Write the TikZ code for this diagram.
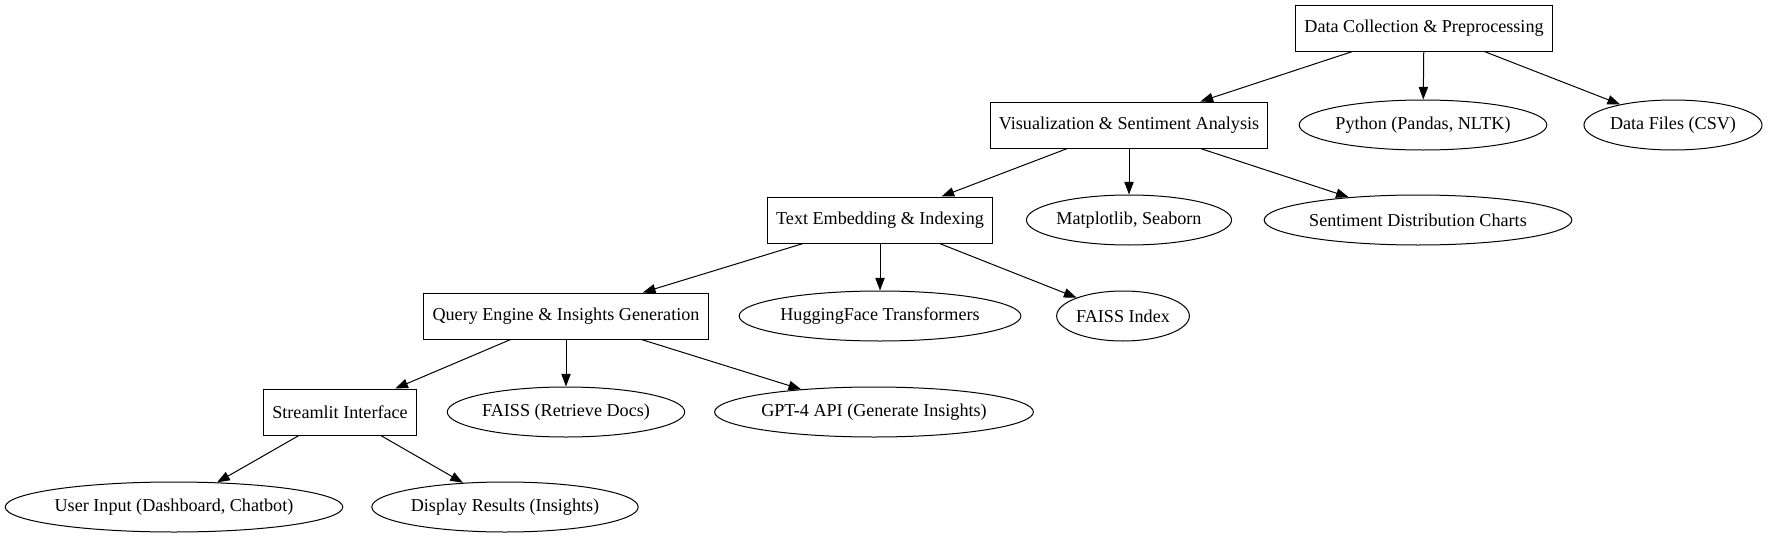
\documentclass[tikz,border=0pt]{standalone}
\usepackage{fontspec}
\setmainfont{Liberation Serif}
\usetikzlibrary{shapes.geometric,arrows.meta}

\begin{document}
\begin{tikzpicture}[x=0.75pt,y=-0.75pt,
	box/.style={draw,rectangle,line width=0.75pt,minimum height=34.5pt,inner xsep=6.5pt,font=\fontsize{13.6}{16}\selectfont},
	oval/.style={draw,ellipse,line width=0.75pt,minimum height=37.5pt,inner xsep=0pt,inner ysep=0pt,font=\fontsize{13.6}{16}\selectfont},
	>={Triangle[length=9.5pt,width=7pt]}]
			\useasboundingbox (0,0) rectangle (1775,539);
			\node[box] (Collect) at (1424,28) {Data Collection \& Preprocessing};
			\node[box] (Visual) at (1129,125) {Visualization \& Sentiment Analysis};
			\node[oval] (Python) at (1423,125) {Python (Pandas, NLTK)};
			\node[oval] (Files) at (1673,125) {Data Files (CSV)};
			\node[box] (Embed) at (880,220) {Text Embedding \& Indexing};
			\node[oval] (Plot) at (1129,220) {Matplotlib, Seaborn};
			\node[oval] (Charts) at (1418,220) {Sentiment Distribution Charts};
			\node[box] (Query) at (566,316) {Query Engine \& Insights Generation};
			\node[oval] (Hugging) at (880,316) {HuggingFace Transformers};
			\node[oval] (Index) at (1123,316) {FAISS Index};
			\node[box] (Stream) at (340,412) {Streamlit Interface};
			\node[oval] (Retrieve) at (566,412) {FAISS (Retrieve Docs)};
			\node[oval] (GPT) at (874,412) {GPT-4 API (Generate Insights)};
			\node[oval] (Input) at (174,507) {User Input (Dashboard, Chatbot)};
			\node[oval] (Results) at (505,507) {Display Results (Insights)};
			\draw[->,line width=0.75pt] (Collect) -- (Visual);
			\draw[->,line width=0.75pt] (Collect) -- (Python);
			\draw[->,line width=0.75pt] (Collect) -- (Files);
			\draw[->,line width=0.75pt] (Visual) -- (Embed);
			\draw[->,line width=0.75pt] (Visual) -- (Plot);
			\draw[->,line width=0.75pt] (Visual) -- (Charts);
			\draw[->,line width=0.75pt] (Embed) -- (Query);
			\draw[->,line width=0.75pt] (Embed) -- (Hugging);
			\draw[->,line width=0.75pt] (Embed) -- (Index);
			\draw[->,line width=0.75pt] (Query) -- (Stream);
			\draw[->,line width=0.75pt] (Query) -- (Retrieve);
			\draw[->,line width=0.75pt] (Query) -- (GPT);
			\draw[->,line width=0.75pt] (Stream) -- (Input);
			\draw[->,line width=0.75pt] (Stream) -- (Results);
		\end{tikzpicture}
\end{document}
